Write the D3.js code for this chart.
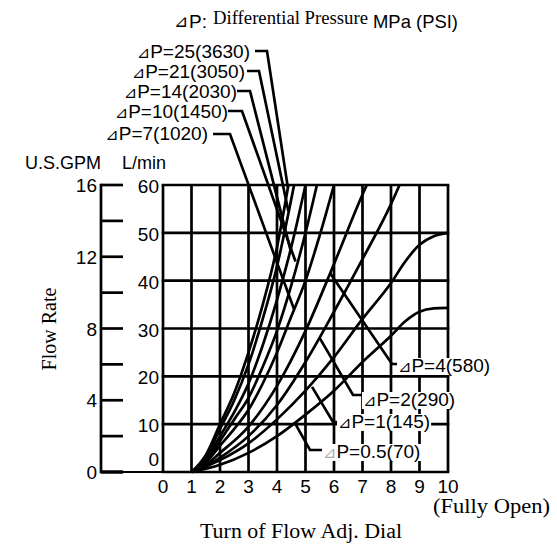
<!DOCTYPE html>
<html><head><meta charset="utf-8">
<script src="https://cdn.jsdelivr.net/npm/d3@7"></script>
<style>body{margin:0;background:#fff}svg{display:block}</style>
</head><body><svg id="c" width="557" height="544"></svg>
<script>
// ---- data ----
const turnTicks = [0,1,2,3,4,5,6,7,8,9,10];
const lpmTicks = [0,10,20,30,40,50,60];
const gpmTicks = [0,2,4,6,8,10,12,14,16];
const gpmLabels = [0,4,8,12,16];
const pressureNames = ["25(3630)","21(3050)","14(2030)","10(1450)","7(1020)","4(580)","2(290)","1(145)","0.5(70)"];
const dp25 = [[1,0],[1.5,3.5],[2,10],[2.5,16.5],[3,25],[3.5,35],[4,47],[4.4,60]];
const dp21 = [[1,0],[1.5,3],[2,9],[2.5,15],[3,22.5],[3.5,32],[4,43],[4.6,60]];
const dp14 = [[1,0],[1.5,2.6],[2,7.5],[2.5,12.5],[3,18.5],[3.5,26.5],[4,36],[4.5,47],[5,60]];
const dp10 = [[1,0],[1.5,2.3],[2,6.5],[2.5,11],[3,15.5],[3.5,22],[4,29.5],[4.5,39],[5,50],[5.4,60]];
const dp7  = [[1,0],[1.5,2],[2,5.5],[2.5,9],[3,13],[3.5,18.5],[4,25],[4.5,32.5],[5,40],[5.5,49.5],[6,60]];
const dp4  = [[1,0],[1.5,1.5],[2,4],[3,9.5],[4,18],[5,29.5],[6,43.5],[7,58],[7.15,60]];
const dp2  = [[1,0],[1.5,1.2],[2,3],[3,7.5],[4,14],[5,23],[6,33.5],[7,44.5],[8,56],[8.3,60]];
const dp1  = [[1,0],[2,2.5],[3,6],[4,11],[5,17],[6,24],[7,32],[8,39.5],[8.5,44],[9,47.5],[9.5,49.3],[10,50]];
const dp05 = [[1,0],[2,1.5],[3,4],[4,7.5],[5,12],[6,17],[7,23],[8,28.5],[8.5,31.5],[9,33.5],[9.5,34.2],[10,34.3]];
// where each label's leader touches its curve [turn, L/min]
const leaderEnds = [[4.38,59.5],[4.4,54.5],[4.47,46.5],[4.65,44],[4.6,34],[5.86,41.6],[5.5,28],[5.23,17.8],[4.63,10.2]];

const curves = [dp25,dp21,dp14,dp10,dp7,dp4,dp2,dp1,dp05];

// ---- layout ----
const svg = d3.select("#c");
const SANS = "'Liberation Sans', Arial, 'DejaVu Sans', sans-serif";
const SERIF = "'Liberation Serif', 'Times New Roman', serif";
const x = d3.scaleLinear().domain([0,10]).range([163,448]);
const y = d3.scaleLinear().domain([0,60]).range([472,185]);
const yg = d3.scaleLinear().domain([0,16]).range([472,185]);
const LW = 2.7;

const g = svg.append("g");
// grid
g.selectAll("line.v").data(turnTicks).join("line")
  .attr("x1",d=>x(d)).attr("x2",d=>x(d)).attr("y1",y(0)).attr("y2",y(60))
  .attr("stroke","#000").attr("stroke-width",LW);
g.selectAll("line.h").data(lpmTicks).join("line")
  .attr("x1",x(0)-1.3).attr("x2",x(10)+1.3).attr("y1",d=>y(d)).attr("y2",d=>y(d))
  .attr("stroke","#000").attr("stroke-width",LW);
// GPM axis
g.append("line").attr("x1",101).attr("x2",101).attr("y1",yg(16)-1.3).attr("y2",yg(0)+1.3)
  .attr("stroke","#000").attr("stroke-width",LW);
g.append("line").attr("x1",101).attr("x2",x(0)).attr("y1",yg(0)).attr("y2",yg(0))
  .attr("stroke","#000").attr("stroke-width",2);
g.selectAll("line.gt").data(gpmTicks).join("line")
  .attr("x1",101).attr("x2",123).attr("y1",d=>yg(d)).attr("y2",d=>yg(d))
  .attr("stroke","#000").attr("stroke-width",d=>d===0?3.5:LW);

// tick labels
g.selectAll("text.gl").data(gpmLabels).join("text")
  .attr("x",97).attr("y",d=>yg(d)+7).attr("text-anchor","end")
  .attr("font-family",SANS).attr("font-size",19).text(d=>d);
g.selectAll("text.ll").data(lpmTicks).join("text")
  .attr("x",159).attr("y",d=>d===0?y(d)-6:y(d)+8).attr("text-anchor","end")
  .attr("font-family",SANS).attr("font-size",19).text(d=>d);
g.selectAll("text.xl").data(turnTicks).join("text")
  .attr("x",d=>x(d)).attr("y",493).attr("text-anchor","middle")
  .attr("font-family",SANS).attr("font-size",19).text(d=>d);

// unit header
g.append("text").attr("x",101).attr("y",169).attr("text-anchor","end")
  .attr("font-family",SANS).attr("font-size",18).text("U.S.GPM");
g.append("text").attr("x",122).attr("y",169)
  .attr("font-family",SANS).attr("font-size",18).text("L/min");

// axis titles
g.append("text").attr("transform","translate(56,329) rotate(-90)").attr("text-anchor","middle")
  .attr("font-family",SERIF).attr("font-size",20).text("Flow Rate");
g.append("text").attr("x",200).attr("y",538).attr("textLength",202).attr("lengthAdjust","spacingAndGlyphs")
  .attr("font-family",SERIF).attr("font-size",20).text("Turn of Flow Adj. Dial");
g.append("text").attr("x",433).attr("y",513).attr("textLength",117).attr("lengthAdjust","spacingAndGlyphs")
  .attr("font-family",SERIF).attr("font-size",20).text("(Fully Open)");

// title
g.append("text").attr("x",174).attr("y",27).attr("font-family",SANS).attr("font-size",17).text("\u22BF");
g.append("text").attr("x",189).attr("y",28).attr("font-family",SANS).attr("font-size",19).text("P:");
g.append("text").attr("x",213).attr("y",24).attr("textLength",155).attr("lengthAdjust","spacingAndGlyphs")
  .attr("font-family",SERIF).attr("font-size",18.5).text("Differential Pressure");
g.append("text").attr("x",373).attr("y",28).attr("textLength",85).attr("lengthAdjust","spacingAndGlyphs")
  .attr("font-family",SANS).attr("font-size",18.5).text("MPa (PSI)");

// curves
const line = d3.line().x(d=>x(d[0])).y(d=>y(d[1])).curve(d3.curveMonotoneX);
g.selectAll("path.c").data(curves).join("path")
  .attr("d",line).attr("fill","none").attr("stroke","#000").attr("stroke-width",LW)
  .attr("stroke-linejoin","round");

// label layout: [text x, baseline y, tail x0, tail x1, tail y, anchor]
const labelPos = [
  [250,58, 255,267,51,"end"],
  [245,78, 247,259,71,"end"],
  [237,98, 237,250,91,"end"],
  [228,118,228,242,111,"end"],
  [208,140,213,230,134,"end"],
  [398,372,392,399,364,"start"],
  [363,406,353,364,395,"start"],
  [338,428,333,339,422,"start"],
  [323,458,310,324,450,"start"]
];
pressureNames.forEach((name,i)=>{
  const p = labelPos[i];
  const e = leaderEnds[i];
  g.append("polyline")
    .attr("points", p[5]==="end"
       ? `${p[2]},${p[4]} ${p[3]},${p[4]} ${x(e[0])},${y(e[1])}`
       : `${p[3]},${p[4]} ${p[2]},${p[4]} ${x(e[0])},${y(e[1])}`)
    .attr("fill","none").attr("stroke","#000").attr("stroke-width",LW).attr("stroke-linejoin","miter");
  const t = g.append("text").attr("x",p[0]).attr("y",p[1]).attr("text-anchor",p[5])
    .attr("font-family",SANS).attr("font-size",19);
  t.append("tspan").attr("font-size",16).attr("fill", i===8?"#aaa":"#000").text("\u22BF");
  t.append("tspan").text("P="+name);
  if (p[5]==="start") {
    const bb = t.node().getBBox();
    g.insert("rect", function(){return t.node();})
      .attr("x",bb.x-1).attr("y",bb.y+3).attr("width",bb.width+2).attr("height",bb.height-4)
      .attr("fill","#fff");
  }
});
</script></body></html>
